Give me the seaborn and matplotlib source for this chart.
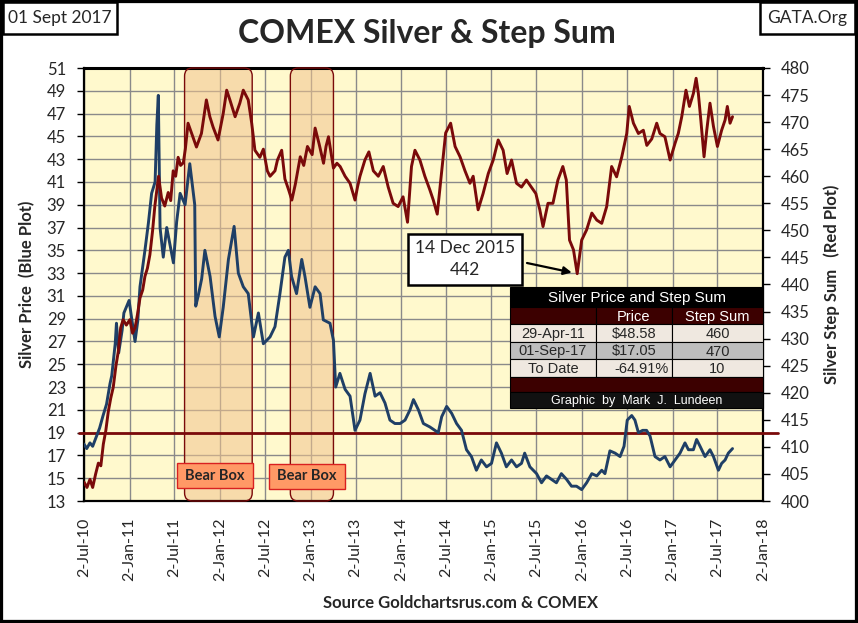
import matplotlib
matplotlib.use("Agg")
import matplotlib.pyplot as plt
import matplotlib.dates as mdates
from matplotlib.patches import FancyBboxPatch, Rectangle
import numpy as np
import pandas as pd
import seaborn as sns

# ---------------- data ----------------
price_dates = [
    "2010-07-02", "2010-07-13", "2010-07-26", "2010-08-06", "2010-08-20", "2010-09-03", "2010-09-17",
    "2010-10-01", "2010-10-15", "2010-10-22", "2010-11-05", "2010-11-10", "2010-11-19", "2010-12-03",
    "2010-12-10", "2010-12-31", "2011-01-14", "2011-01-24", "2011-02-04", "2011-02-13", "2011-03-05",
    "2011-03-19", "2011-04-01", "2011-04-15", "2011-04-22", "2011-04-28", "2011-05-05", "2011-05-18",
    "2011-06-01", "2011-06-14", "2011-06-28", "2011-07-11", "2011-07-25", "2011-08-14", "2011-09-02",
    "2011-09-22", "2011-09-26", "2011-10-06", "2011-10-20", "2011-11-02", "2011-11-23", "2011-12-13",
    "2011-12-30", "2012-01-15", "2012-02-05", "2012-02-28", "2012-03-16", "2012-04-05", "2012-04-25",
    "2012-05-16", "2012-06-05", "2012-06-25", "2012-07-22", "2012-08-11", "2012-08-31", "2012-09-20",
    "2012-10-04", "2012-10-17", "2012-11-06", "2012-11-27", "2012-12-10", "2012-12-30", "2013-01-20",
    "2013-02-09", "2013-02-22", "2013-03-21", "2013-04-04", "2013-04-13", "2013-04-30", "2013-05-21",
    "2013-06-10", "2013-06-30", "2013-07-20", "2013-08-09", "2013-08-30", "2013-09-19", "2013-10-09",
    "2013-10-29", "2013-11-18", "2013-12-08", "2013-12-29", "2014-01-18", "2014-02-07", "2014-02-21",
    "2014-03-13", "2014-04-02", "2014-04-28", "2014-05-18", "2014-06-01", "2014-06-15", "2014-07-05",
    "2014-07-25", "2014-08-14", "2014-09-03", "2014-09-23", "2014-10-13", "2014-11-02", "2014-11-22",
    "2014-12-13", "2015-01-02", "2015-01-22", "2015-02-11", "2015-03-03", "2015-03-24", "2015-04-13",
    "2015-05-03", "2015-05-16", "2015-06-06", "2015-07-03", "2015-07-23", "2015-08-12", "2015-09-01",
    "2015-09-21", "2015-10-11", "2015-11-01", "2015-11-21", "2015-12-11", "2016-01-01", "2016-01-21",
    "2016-02-11", "2016-03-02", "2016-03-22", "2016-04-04", "2016-04-24", "2016-05-15", "2016-06-04",
    "2016-06-20", "2016-07-03", "2016-07-21", "2016-08-03", "2016-08-17", "2016-09-03", "2016-09-19",
    "2016-10-03", "2016-10-23", "2016-11-12", "2016-12-02", "2016-12-23", "2017-01-12", "2017-02-01",
    "2017-02-21", "2017-03-07", "2017-03-27", "2017-04-09", "2017-04-23", "2017-05-13", "2017-06-02",
    "2017-06-16", "2017-07-06", "2017-07-19", "2017-08-02", "2017-08-15", "2017-09-01",
]
price_values = [
    18.0, 17.6, 18.1, 17.8, 18.6, 19.4, 20.5,
    21.5, 23.3, 24.0, 26.8, 28.6, 26.0, 28.0,
    29.5, 30.6, 28.5, 27.0, 28.8, 31.8, 35.0,
    37.4, 40.0, 41.0, 46.0, 48.6, 37.0, 34.4,
    37.0, 35.5, 33.9, 37.5, 40.0, 39.0, 42.6,
    39.0, 30.1, 31.0, 32.5, 35.0, 32.7, 29.2,
    27.4, 30.0, 34.2, 37.1, 33.0, 31.8, 31.2,
    27.4, 29.5, 26.8, 27.4, 28.3, 31.2, 34.4,
    35.0, 32.7, 31.2, 34.2, 32.7, 30.0, 31.8,
    31.2, 28.9, 28.6, 27.1, 23.0, 24.2, 22.8,
    22.2, 19.2, 20.1, 22.4, 24.2, 22.2, 22.5,
    21.6, 20.1, 19.8, 19.8, 20.1, 21.0, 21.9,
    21.0, 19.8, 19.5, 19.2, 19.0, 20.4, 21.3,
    20.7, 19.8, 19.2, 17.5, 16.9, 15.7, 16.6,
    16.0, 16.3, 18.1, 17.2, 16.0, 16.6, 16.0,
    16.3, 17.2, 16.0, 15.4, 14.6, 15.2, 14.9,
    14.6, 15.4, 14.9, 14.3, 14.3, 14.0, 14.6,
    15.4, 15.2, 15.7, 15.4, 17.4, 17.2, 16.9,
    17.8, 20.1, 20.5, 20.1, 19.0, 19.2, 19.2,
    18.7, 16.9, 16.6, 16.9, 16.0, 16.6, 17.2,
    18.1, 17.5, 17.5, 18.4, 17.8, 16.9, 17.5,
    16.9, 15.7, 16.3, 16.6, 17.2, 17.6,
]

step_dates = [
    "2010-07-02", "2010-07-14", "2010-07-26", "2010-08-06", "2010-08-18", "2010-08-29", "2010-09-08",
    "2010-09-18", "2010-09-28", "2010-10-08", "2010-10-18", "2010-10-28", "2010-11-08", "2010-11-17",
    "2010-11-27", "2010-12-07", "2010-12-20", "2011-01-03", "2011-01-14", "2011-01-24", "2011-02-03",
    "2011-02-13", "2011-02-24", "2011-03-05", "2011-03-15", "2011-03-25", "2011-04-05", "2011-04-14",
    "2011-04-29", "2011-05-11", "2011-05-24", "2011-06-07", "2011-06-17", "2011-06-27", "2011-07-07",
    "2011-07-17", "2011-07-27", "2011-08-07", "2011-08-15", "2011-08-26", "2011-09-09", "2011-09-29",
    "2011-10-19", "2011-11-08", "2011-11-22", "2011-12-05", "2011-12-25", "2012-01-15", "2012-01-29",
    "2012-02-11", "2012-03-03", "2012-03-22", "2012-04-05", "2012-04-25", "2012-05-09", "2012-05-22",
    "2012-06-11", "2012-06-25", "2012-07-11", "2012-07-22", "2012-08-11", "2012-08-21", "2012-09-07",
    "2012-09-20", "2012-10-05", "2012-10-18", "2012-11-01", "2012-11-21", "2012-12-05", "2012-12-20",
    "2013-01-08", "2013-01-20", "2013-02-05", "2013-02-23", "2013-03-05", "2013-03-15", "2013-04-04",
    "2013-04-18", "2013-05-01", "2013-05-21", "2013-06-10", "2013-06-30", "2013-07-10", "2013-07-20",
    "2013-08-09", "2013-08-25", "2013-09-12", "2013-10-02", "2013-10-22", "2013-11-11", "2013-12-01",
    "2013-12-21", "2014-01-10", "2014-01-28", "2014-02-13", "2014-02-27", "2014-03-19", "2014-04-08",
    "2014-04-28", "2014-05-12", "2014-05-28", "2014-06-15", "2014-07-01", "2014-07-21", "2014-08-08",
    "2014-08-28", "2014-09-17", "2014-10-07", "2014-10-20", "2014-11-09", "2014-11-29", "2014-12-20",
    "2015-01-09", "2015-01-29", "2015-02-18", "2015-03-06", "2015-03-24", "2015-04-13", "2015-05-03",
    "2015-05-23", "2015-06-12", "2015-06-30", "2015-07-16", "2015-07-29", "2015-08-18", "2015-09-07",
    "2015-09-27", "2015-10-17", "2015-10-31", "2015-11-13", "2015-11-29", "2015-12-14", "2016-01-01",
    "2016-01-21", "2016-02-11", "2016-03-02", "2016-03-22", "2016-04-11", "2016-05-01", "2016-05-21",
    "2016-06-11", "2016-07-01", "2016-07-11", "2016-07-28", "2016-08-17", "2016-09-06", "2016-09-20",
    "2016-10-10", "2016-10-30", "2016-11-12", "2016-12-02", "2016-12-23", "2017-01-12", "2017-01-25",
    "2017-02-08", "2017-02-25", "2017-03-11", "2017-03-27", "2017-04-07", "2017-04-16", "2017-04-26",
    "2017-05-09", "2017-05-20", "2017-06-02", "2017-06-16", "2017-07-02", "2017-07-19", "2017-08-02",
    "2017-08-11", "2017-08-22", "2017-09-01",
]
step_values = [
    403.5, 402.5, 404.0, 402.5, 405.0, 407.0, 406.5,
    410.5, 413.0, 416.5, 419.0, 421.0, 425.0, 427.5,
    432.0, 433.5, 432.5, 433.5, 431.0, 432.0, 434.5,
    437.5, 439.0, 441.5, 443.0, 445.5, 450.0, 454.5,
    460.0, 456.0, 454.5, 457.0, 455.5, 461.0, 460.0,
    463.5, 462.0, 462.5, 465.0, 469.8, 468.0, 465.4,
    467.9, 474.1, 471.0, 469.1, 466.7, 471.6, 475.9,
    474.1, 471.0, 473.5, 475.9, 474.1, 469.8, 464.8,
    463.5, 465.0, 461.0, 460.0, 461.0, 463.0, 464.8,
    459.5, 457.5, 455.6, 458.5, 463.6, 462.0, 465.5,
    464.0, 468.9, 466.0, 462.4, 465.5, 467.3, 461.5,
    462.4, 461.8, 460.0, 458.7, 455.6, 458.0, 460.0,
    463.0, 464.5, 461.0, 460.0, 461.8, 458.0, 455.0,
    454.4, 456.2, 451.5, 461.8, 464.8, 463.0, 460.0,
    457.5, 455.6, 453.0, 461.0, 468.0, 469.8, 465.5,
    463.6, 461.0, 458.7, 460.0, 453.8, 456.8, 460.5,
    463.0, 466.7, 464.8, 460.5, 463.0, 458.7, 458.0,
    459.3, 458.0, 456.8, 453.8, 450.7, 455.0, 455.0,
    459.3, 461.8, 459.3, 448.2, 446.4, 442.0, 448.2,
    450.1, 453.2, 451.9, 451.3, 454.4, 461.8, 459.9,
    463.6, 467.9, 472.9, 469.8, 467.9, 468.5, 465.7,
    466.9, 469.8, 467.9, 467.3, 463.0, 466.1, 467.9,
    471.0, 475.9, 472.9, 475.3, 478.1, 475.3, 470.4,
    463.6, 468.5, 473.5, 469.2, 465.5, 468.5, 470.4,
    472.9, 469.8, 471.0,
]

tick_dates = ["2010-07-02", "2011-01-02", "2011-07-02", "2012-01-02", "2012-07-02", "2013-01-02",
              "2013-07-02", "2014-01-02", "2014-07-02", "2015-01-02", "2015-07-02", "2016-01-02",
              "2016-07-02", "2017-01-02", "2017-07-02", "2018-01-02"]
tick_labels = ["2-Jul-10", "2-Jan-11", "2-Jul-11", "2-Jan-12", "2-Jul-12", "2-Jan-13",
               "2-Jul-13", "2-Jan-14", "2-Jul-14", "2-Jan-15", "2-Jul-15", "2-Jan-16",
               "2-Jul-16", "2-Jan-17", "2-Jul-17", "2-Jan-18"]
price_ticks = list(range(13, 52, 2))
step_ticks = list(range(400, 481, 5))

bear_starts = ["2011-08-12", "2012-10-12"]
bear_ends = ["2012-05-11", "2013-04-04"]
reference_price = 19

low_date = "2015-12-14"
low_value = 442

table_title = "Silver Price and Step Sum"
table_header = ["", "Price", "Step Sum"]
table_rows = [["29-Apr-11", "$48.58", "460"],
              ["01-Sep-17", "$17.05", "470"],
              ["To Date", "-64.91%", "10"]]

# ---------------- style ----------------
sns.set_style("white")
plt.rcParams["font.family"] = ["Lato", "DejaVu Sans"]

W, H = 858, 623
fig = plt.figure(figsize=(W / 100, H / 100), dpi=100)
fig.patch.set_facecolor("white")


def fx(px):
    return px / W


def fy(py):
    return 1 - py / H


L, R, T, B = 84, 763, 68, 501
ax = fig.add_axes([fx(L), fy(B), fx(R) - fx(L), fy(T) - fy(B)])
ax.set_facecolor("#FFF9CD")

BLUE = "#1F3F66"
RED = "#7A0A0A"

price_df = pd.DataFrame({"date": pd.to_datetime(price_dates), "price": price_values})
step_df = pd.DataFrame({"date": pd.to_datetime(step_dates), "step": step_values})

sns.lineplot(data=price_df, x="date", y="price", ax=ax, color=BLUE, linewidth=2.1, zorder=4)

x0 = pd.Timestamp(tick_dates[0])
x1 = pd.Timestamp(tick_dates[-1])
ax.set_xlim(x0, x1)
ax.set_ylim(price_ticks[0], price_ticks[-1])
ax.set_xticks(pd.to_datetime(tick_dates))
ax.set_xticklabels(tick_labels, rotation=90, fontsize=11.5)
ax.set_yticks(price_ticks)
ax.set_yticklabels([str(v) for v in price_ticks], fontsize=12)
ax.grid(True, color="#8A8A8A", linewidth=1.0, zorder=1)
ax.set_axisbelow(True)
ax.tick_params(axis="x", length=0, pad=12)
ax.tick_params(axis="y", direction="out", length=5, width=1, pad=8, color="black")
ax.set_xlabel("")
ax.set_ylabel("")
for s in ax.spines.values():
    s.set_color("black")
    s.set_linewidth(1.6)
ax.spines["top"].set_linewidth(2.2)

# bear boxes
for s0, s1 in zip(bear_starts, bear_ends):
    a = mdates.date2num(pd.Timestamp(s0))
    b = mdates.date2num(pd.Timestamp(s1))
    box = FancyBboxPatch((a, price_ticks[0]), b - a, price_ticks[-1] - price_ticks[0],
                         boxstyle="round,pad=0,rounding_size=32", mutation_aspect=0.0219,
                         facecolor="#F2C48F", alpha=0.55, edgecolor="none", zorder=2,
                         clip_on=False)
    ax.add_patch(box)
    edge = FancyBboxPatch((a, price_ticks[0]), b - a, price_ticks[-1] - price_ticks[0],
                          boxstyle="round,pad=0,rounding_size=32", mutation_aspect=0.0219,
                          facecolor="none", edgecolor="#7A0A0A", linewidth=1.0, zorder=3,
                          clip_on=False)
    ax.add_patch(edge)

# reference line
ax.axhline(reference_price, xmin=-0.008, xmax=1.022, color=RED, linewidth=2.0,
           zorder=3, clip_on=False)

# right axis
ax2 = ax.twinx()
sns.lineplot(data=step_df, x="date", y="step", ax=ax2, color=RED, linewidth=2.1, zorder=5)
ax2.set_xlim(x0, x1)
ax2.set_ylim(step_ticks[0], step_ticks[-1])
ax2.set_yticks(step_ticks)
ax2.set_yticklabels([str(v) for v in step_ticks], fontsize=12)
ax2.tick_params(axis="y", direction="out", length=5, width=1, pad=8, color="black")
ax2.set_ylabel("")
ax2.set_xlabel("")
ax2.grid(False)
for s in ax2.spines.values():
    s.set_visible(False)

# axis titles
fig.text(fx(27), fy(284), "Silver Price  (Blue Plot)", rotation=90, ha="center", va="center",
         fontsize=12, fontweight="bold")
fig.text(fx(832), fy(284), "Silver Step Sum   (Red Plot)", rotation=90, ha="center", va="center",
         fontsize=12, fontweight="bold")
fig.text(fx(461), fy(603), "Source Goldchartsrus.com & COMEX", ha="center", va="center",
         fontsize=12, fontweight="bold")

# title
fig.text(fx(427), fy(33), "COMEX Silver & Step Sum", ha="center", va="center",
         fontsize=23, fontweight="bold")

# corner boxes
fig.patches.append(Rectangle((fx(3), fy(34)), fx(117) - fx(3), fy(2) - fy(34),
                             transform=fig.transFigure, facecolor="white", edgecolor="black",
                             linewidth=1.8))
fig.text(fx(60), fy(18), "01 Sept 2017", ha="center", va="center", fontsize=12.5)
fig.patches.append(Rectangle((fx(760), fy(34)), fx(855) - fx(760), fy(2) - fy(34),
                             transform=fig.transFigure, facecolor="white", edgecolor="black",
                             linewidth=1.8))
fig.text(fx(807), fy(18), "GATA.Org", ha="center", va="center", fontsize=12.5)

# bear box labels
for (lx0, lx1, ly0, ly1) in [(177, 253, 463, 488), (269, 345, 464, 489)]:
    fig.patches.append(Rectangle((fx(lx0), fy(ly1)), fx(lx1) - fx(lx0), fy(ly0) - fy(ly1),
                                 transform=fig.transFigure, facecolor="#FF9966",
                                 edgecolor="#D92020", linewidth=1.0, zorder=6))
    fig.text(fx((lx0 + lx1) / 2), fy((ly0 + ly1) / 2), "Bear Box", ha="center", va="center",
             fontsize=10.5, fontweight="bold", zorder=7)

# low annotation
fig.patches.append(Rectangle((fx(408), fy(285)), fx(522) - fx(408), fy(234) - fy(285),
                             transform=fig.transFigure, facecolor="white", edgecolor="black",
                             linewidth=1.8, zorder=6))
fig.text(fx(465), fy(259), "14 Dec 2015\n442", ha="center", va="center", fontsize=12.5,
         linespacing=1.45, zorder=7)
ax2.annotate("", xy=(pd.Timestamp(low_date), low_value), xycoords="data",
             xytext=(fx(527), fy(263)), textcoords="figure fraction",
             arrowprops=dict(arrowstyle="-|>", color="black", lw=1.6, shrinkA=0, shrinkB=4,
                             mutation_scale=12), zorder=8)

# table
cols = [510, 596, 672, 763]
rows = [287, 307, 324, 342, 359, 377, 392, 408]
tfont = ["Liberation Sans", "DejaVu Sans"]


def cell(x0_, x1_, y0_, y1_, fc, ec="black", lw=0.8):
    fig.patches.append(Rectangle((fx(x0_), fy(y1_)), fx(x1_) - fx(x0_), fy(y0_) - fy(y1_),
                                 transform=fig.transFigure, facecolor=fc, edgecolor=ec,
                                 linewidth=lw, zorder=6))


cell(cols[0], cols[-1], rows[0], rows[1], "black", "black")
fig.text(fx((cols[0] + cols[-1]) / 2), fy((rows[0] + rows[1]) / 2 + 1), table_title,
         ha="center", va="center", color="white", fontsize=11, family=tfont, zorder=7)
for j in range(3):
    cell(cols[j], cols[j + 1], rows[1], rows[2], "#3C0000", "black")
    fig.text(fx((cols[j] + cols[j + 1]) / 2), fy((rows[1] + rows[2]) / 2 + 1), table_header[j],
             ha="center", va="center", color="white", fontsize=10.5, family=tfont, zorder=7)
row_colors = ["#EFE8E0", "#BEBEBE", "#EFE8E0"]
for i, rvals in enumerate(table_rows):
    for j in range(3):
        cell(cols[j], cols[j + 1], rows[2 + i], rows[3 + i], row_colors[i], "black")
        yc = fy((rows[2 + i] + rows[3 + i]) / 2 + 1)
        if i == 2 and j == 1:
            fig.text(fx(cols[j + 1] - 3), yc, rvals[j], ha="right", va="center",
                     fontsize=10.5, family=tfont, zorder=7)
        else:
            fig.text(fx((cols[j] + cols[j + 1]) / 2), yc, rvals[j], ha="center", va="center",
                     fontsize=10.5, family=tfont, zorder=7)
cell(cols[0], cols[-1], rows[5], rows[6], "#3C0000", "black")
cell(cols[0], cols[-1], rows[6], rows[7], "#111111", "black")
fig.text(fx((cols[0] + cols[-1]) / 2), fy((rows[6] + rows[7]) / 2 + 1),
         "Graphic  by  Mark  J.  Lundeen", ha="center", va="center", color="white",
         fontsize=9, family=tfont, zorder=7)

# outer frame
fig.patches.append(Rectangle((0, 0), 1, 1, transform=fig.transFigure, facecolor="none",
                             edgecolor="black", linewidth=4.5, zorder=10))

fig.savefig("out.png", dpi=100)
